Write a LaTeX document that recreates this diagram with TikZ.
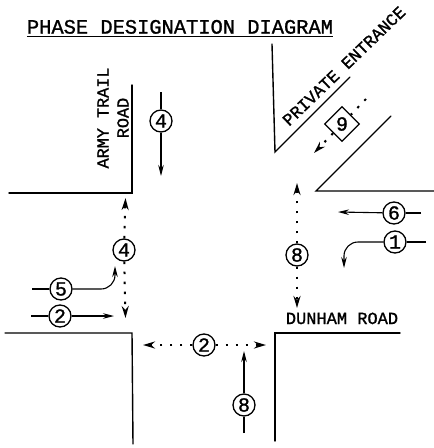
\documentclass[tikz,border=0pt]{standalone}
\usepackage{fontspec}
\setmonofont[FakeBold=1.2]{Liberation Mono}
\usepackage{tikz}
\usetikzlibrary{arrows.meta, shapes.geometric}

\begin{document}
\begin{tikzpicture}[
  x=1pt, y=-1pt,
  curb/.style={line width=1.4pt, line cap=round, line join=miter},
  arr/.style={-{Stealth[length=11pt, width=5.5pt]}, line width=1.1pt},
  tail/.style={line width=1.1pt},
  olap/.style={-{Stealth[length=12pt, width=7pt, sep=0pt]}, line width=2pt,
    dash pattern=on 2.4pt off 7.6pt},
  phase/.style={circle, draw, line width=1.3pt, minimum size=22pt, inner sep=0pt,
    fill=white, font=\fontsize{20}{20}\ttfamily},
  label/.style={font=\fontsize{#1}{#1}\ttfamily, inner sep=0pt},
]
\useasboundingbox (0,0) rectangle (434,448);

% Title
\node[label=20.4, anchor=south] (title) at (180,34) {PHASE DESIGNATION DIAGRAM};
\draw[line width=1.4pt] ([yshift=-2.5pt]title.south west) -- ([yshift=-2.5pt]title.south east);

% Curbs
\draw[curb] (9,193) -- (132,193) -- (132,85);
\draw[curb] (5,333) -- (132,333) -- (133,444);
\draw[curb] (400,333) -- (275,333) -- (275,441);
\draw[curb] (434,191) -- (316,191) -- (391,116);
\draw[curb] (272,44) -- (275,152) -- (350,77);

% Road labels
\node[label=16.8, rotate=90] (army) at (103,118) {ARMY TRAIL};
\node[label=16.8, rotate=90] (road) at (123,118) {ROAD};
\node[label=17, anchor=base] (dunham) at (342,324) {DUNHAM ROAD};
\node[label=17, rotate=44] (private) at (344,66) {PRIVATE ENTRANCE};

% Phases
\node[phase] (ph4s) at (161,121) {4};
\node[phase] (ph4o) at (124,250) {4};
\node[phase] (ph5) at (61,289) {5};
\node[phase] (ph2e) at (60,316) {2};
\node[phase] (ph2o) at (204,345) {2};
\node[phase] (ph8n) at (244,405) {8};
\node[phase] (ph8o) at (297,255) {8};
\node[phase] (ph1) at (395,242) {1};
\node[phase] (ph6) at (394,213) {6};
\node[diamond, draw, line width=1.3pt, minimum size=35pt, inner sep=0pt,
  font=\fontsize{20}{20}\ttfamily] (ph9) at (342,124) {9};

% Free ends
\coordinate (top4s) at (161,92);
\coordinate (tip4s) at (161,176);
\coordinate (tip4n) at (125.5,198);
\coordinate (tip4d) at (125.5,318);
\coordinate (tail5) at (32,289);
\coordinate (tip5) at (115,266);
\coordinate (tail2) at (31,316);
\coordinate (tip2) at (114,316);
\coordinate (tip2w) at (143,345);
\coordinate (tip2e) at (266,345);
\coordinate (tail8) at (244,433);
\coordinate (tip8) at (244,351);
\coordinate (tip8n) at (297,183);
\coordinate (tip8s) at (297,308);
\coordinate (tail1) at (426,242);
\coordinate (tip1) at (344,268);
\coordinate (tail6) at (421,213);
\coordinate (tip6) at (338,212);
\coordinate (tail9) at (366,99);
\coordinate (tip9) at (314,153);

% Arrows
\draw[tail] (top4s) -- (ph4s);
\draw[arr] (ph4s) -- (tip4s);
\draw[olap] (ph4o) -- (tip4n);
\draw[olap] (ph4o) -- (tip4d);
\draw[tail] (tail5) -- (ph5);
\draw[arr, rounded corners=14pt] (ph5) -| (tip5);
\draw[tail] (tail2) -- (ph2e);
\draw[arr] (ph2e) -- (tip2);
\draw[olap] (ph2o) -- (tip2w);
\draw[olap] (ph2o) -- (tip2e);
\draw[tail] (tail8) -- (ph8n);
\draw[arr] (ph8n) -- (tip8);
\draw[olap] (ph8o) -- (tip8n);
\draw[olap] (ph8o) -- (tip8s);
\draw[tail] (tail1) -- (ph1);
\draw[arr, rounded corners=14pt] (ph1) -| (tip1);
\draw[tail] (tail6) -- (ph6);
\draw[arr] (ph6) -- (tip6);
\draw[line width=2pt, dash pattern=on 2.4pt off 7.6pt] (tail9) -- (ph9);
\draw[olap] (ph9) -- (tip9);

\end{tikzpicture}
\end{document}
